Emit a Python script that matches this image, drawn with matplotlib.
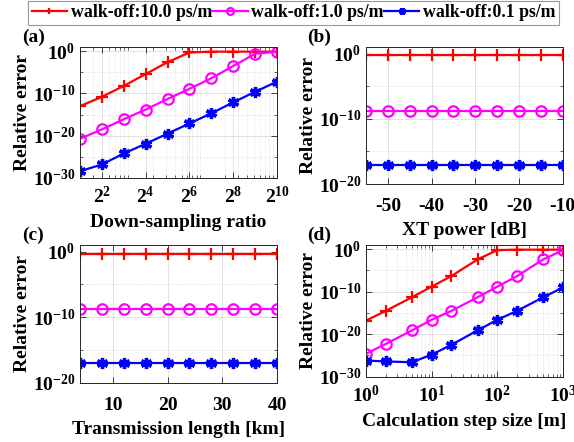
import matplotlib
matplotlib.use('Agg')
import matplotlib.pyplot as plt
import matplotlib.ticker as mticker
import numpy as np

plt.rcParams['font.family'] = ['Liberation Serif', 'DejaVu Serif']
plt.rcParams['font.weight'] = 'bold'
plt.rcParams['mathtext.fontset'] = 'custom'
plt.rcParams['mathtext.rm'] = 'Liberation Serif:bold'
plt.rcParams['mathtext.it'] = 'Liberation Serif:bold'
plt.rcParams['mathtext.bf'] = 'Liberation Serif:bold'

#---------- data (log10 of relative error) ----------
labels = ['walk-off:10.0 ps/m', 'walk-off:1.0 ps/m', 'walk-off:0.1 ps/m']

# (a) down-sampling ratio
ratio = [2, 4, 8, 16, 32, 64, 128, 256, 512, 1024]
a_red = [-13.0, -10.8, -8.2, -5.4, -2.6, -0.3, -0.1, -0.1, -0.1, -0.1]
a_mag = [-20.7, -18.5, -16.1, -13.8, -11.3, -8.9, -6.4, -3.5, -0.6, -0.1]
a_blu = [-28.4, -26.8, -24.2, -21.9, -19.5, -17.1, -14.7, -12.1, -9.6, -7.2]

# (b) XT power
xt_power = [-55, -50, -45, -40, -35, -30, -25, -20, -15, -10]
b_red = [-0.3, -0.3, -0.3, -0.3, -0.3, -0.3, -0.3, -0.3, -0.3, -0.3]
b_mag = [-8.8, -8.8, -8.8, -8.8, -8.8, -8.8, -8.8, -8.8, -8.8, -8.8]
b_blu = [-17.1, -17.1, -17.1, -17.1, -17.1, -17.1, -17.1, -17.1, -17.1, -17.1]

# (c) transmission length
length_km = [4, 8, 12, 16, 20, 24, 28, 32, 36, 40]
c_red = [-0.3, -0.3, -0.3, -0.3, -0.3, -0.3, -0.3, -0.3, -0.3, -0.3]
c_mag = [-8.8, -8.8, -8.8, -8.8, -8.8, -8.8, -8.8, -8.8, -8.8, -8.8]
c_blu = [-17.0, -17.0, -17.0, -17.0, -17.0, -17.0, -17.0, -17.0, -17.0, -17.0]

# (d) calculation step size
step_m = [1, 2, 5, 10, 20, 50, 100, 200, 500, 1000]
d_red = [-16.8, -14.5, -11.3, -8.8, -6.3, -2.4, -0.2, -0.1, -0.1, -0.1]
d_mag = [-24.6, -22.3, -19.1, -16.6, -14.5, -11.3, -8.8, -6.3, -2.4, -0.2]
d_blu = [-26.2, -26.4, -26.6, -24.8, -22.5, -19.1, -16.6, -14.5, -11.3, -9.0]

#---------- styles ----------
styles = [dict(color='#ff0000', marker='+', ms=8, mew=1.6, mfc='none'),
          dict(color='#ff00ff', marker='o', ms=7.5, mew=1.6, mfc='none'),
          dict(color='#0000ff', marker=(6, 2, 0), ms=8, mew=2.4)]
FS = 14


def style_axes(ax, ylims, ymajor, yminor):
    ax.set_yscale('log')
    ax.set_ylim(ylims)
    ax.yaxis.set_major_locator(mticker.FixedLocator(ymajor))
    ax.yaxis.set_minor_locator(mticker.FixedLocator(yminor))
    ax.yaxis.set_major_formatter(mticker.FuncFormatter(
        lambda v, p: r'$10^{%d}$' % int(round(np.log10(v)))))
    ax.yaxis.set_minor_formatter(mticker.NullFormatter())
    ax.tick_params(which='both', direction='in', top=True, right=True,
                   labelsize=FS, color='#262626')
    ax.tick_params(which='major', length=4, width=0.6)
    ax.tick_params(which='minor', length=2, width=0.5)
    ax.tick_params(axis='x', which='major', pad=10)
    ax.grid(True, which='major', color='#000000', alpha=0.13, lw=0.6, ls='-')
    ax.grid(True, which='minor', color='#000000', alpha=0.18, lw=0.5, ls=':')
    for s in ax.spines.values():
        s.set_color('#262626')
        s.set_linewidth(0.7)
    ax.set_ylabel('Relative error', fontsize=FS, fontweight='bold', labelpad=1)


def plot_series(ax, x, ys):
    lines = []
    for y, st in zip(ys, styles):
        l, = ax.plot(x, 10.0 ** np.array(y), lw=1.6, **st)
        lines.append(l)
    return lines


fig = plt.figure(figsize=(5.74, 4.42), dpi=100)
axA = fig.add_axes([0.1394, 0.5973, 0.3432, 0.2964])
axB = fig.add_axes([0.6376, 0.5837, 0.3427, 0.3100])
axC = fig.add_axes([0.1394, 0.1342, 0.3432, 0.3115])
axD = fig.add_axes([0.6376, 0.1477, 0.3432, 0.2980])

big_major = [1e-30, 1e-20, 1e-10, 1e0]
big_minor = [1e-25, 1e-15, 1e-5]
small_major = [1e-20, 1e-10, 1e0]
small_minor = [1e-15, 1e-5]

#-- (a)
lines = plot_series(axA, ratio, [a_red, a_mag, a_blu])
axA.set_xscale('log')
axA.set_xlim(2, 1024)
style_axes(axA, (1e-30, 1e1), big_major, big_minor)
axA.xaxis.set_major_locator(mticker.FixedLocator([4, 16, 64, 256, 1024]))
axA.xaxis.set_major_formatter(mticker.FixedFormatter(
    [r'$2^{2}$', r'$2^{4}$', r'$2^{6}$', r'$2^{8}$', r'$2^{10}$']))
axA.xaxis.set_minor_locator(mticker.LogLocator(base=10, subs=np.arange(2, 10)))
axA.xaxis.set_minor_formatter(mticker.NullFormatter())
axA.tick_params(axis='x', which='major', pad=6)
axA.set_xlabel('Down-sampling ratio', fontsize=FS, fontweight='bold', labelpad=5)

#-- (b)
plot_series(axB, xt_power, [b_red, b_mag, b_blu])
axB.set_xlim(-55, -10)
style_axes(axB, (1e-20, 1e1), small_major, small_minor)
axB.set_xticks([-50, -40, -30, -20, -10])
axB.set_xticklabels(['-50', '-40', '-30', '-20', '-10'])
axB.set_xlabel('XT power [dB]', fontsize=FS, fontweight='bold', labelpad=5)

#-- (c)
plot_series(axC, length_km, [c_red, c_mag, c_blu])
axC.set_xlim(4, 40)
style_axes(axC, (1e-20, 1e1), small_major, small_minor)
axC.set_xticks([10, 20, 30, 40])
axC.set_xlabel('Transmission length [km]', fontsize=FS, fontweight='bold', labelpad=5)

#-- (d)
plot_series(axD, step_m, [d_red, d_mag, d_blu])
axD.set_xscale('log')
axD.set_xlim(1, 1000)
style_axes(axD, (1e-30, 1e1), big_major, big_minor)
axD.xaxis.set_major_locator(mticker.FixedLocator([1, 10, 100, 1000]))
axD.xaxis.set_major_formatter(mticker.FixedFormatter(
    [r'$10^{0}$', r'$10^{1}$', r'$10^{2}$', r'$10^{3}$']))
axD.xaxis.set_minor_locator(mticker.LogLocator(base=10, subs=np.arange(2, 10)))
axD.xaxis.set_minor_formatter(mticker.NullFormatter())
axD.tick_params(axis='x', which='major', pad=6)
axD.set_xlabel('Calculation step size [m]', fontsize=FS, fontweight='bold', labelpad=5)

#-- panel letters
for txt, x, y in [('(a)', 0.038, 0.915), ('(b)', 0.535, 0.915),
                  ('(c)', 0.038, 0.467), ('(d)', 0.535, 0.467)]:
    fig.text(x, y, txt, fontsize=FS, fontweight='bold', ha='left', va='center')

#-- legend, box stretched to the reference's width
leg = fig.legend(lines, labels, loc='lower left',
                 bbox_to_anchor=(0.0488, 0.9434, 0.925, 0.052), mode='expand',
                 ncol=3, fontsize=12.8, frameon=True, fancybox=False,
                 edgecolor='#808080', handlelength=2.0, handletextpad=0.2,
                 columnspacing=0.2, borderpad=0.2, borderaxespad=0.0)
leg.get_frame().set_linewidth(0.8)
for h in leg.legend_handles:
    h.set_markersize(5)

fig.savefig('out.png', dpi=100)
